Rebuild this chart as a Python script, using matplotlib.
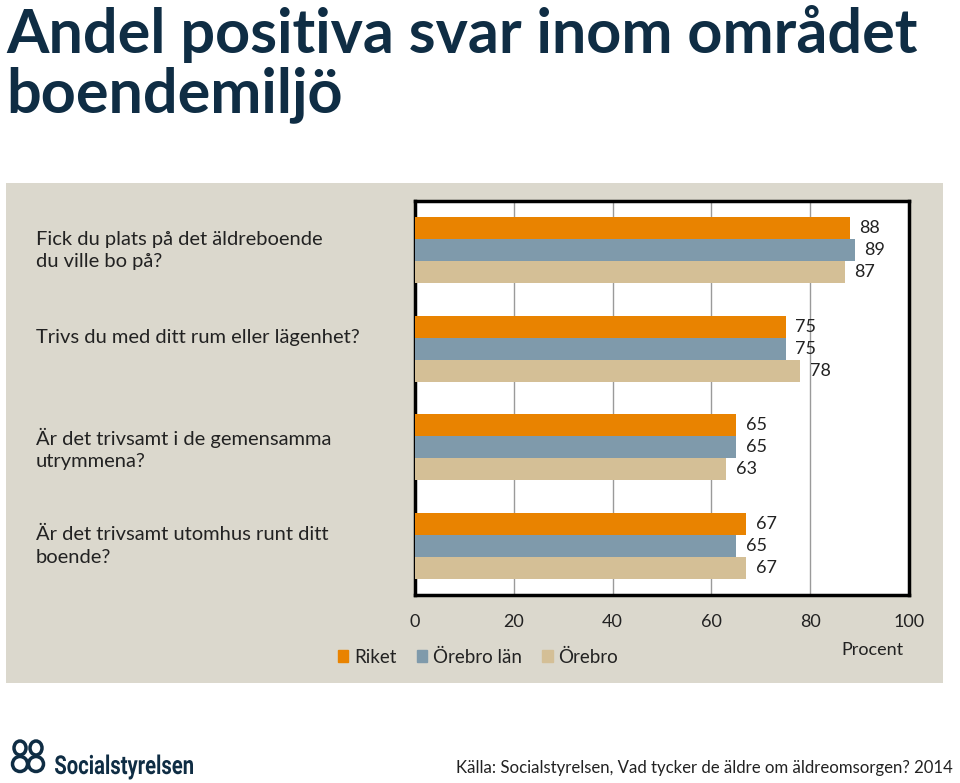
import matplotlib
matplotlib.use("Agg")
import matplotlib.pyplot as plt
import matplotlib.patches as mpatches
from matplotlib.transforms import blended_transform_factory, Affine2D
from matplotlib.textpath import TextPath
from matplotlib.font_manager import FontProperties
import numpy as np

# ---- data ----
categories = [
    "Fick du plats på det äldreboende\ndu ville bo på?",
    "Trivs du med ditt rum eller lägenhet?",
    "Är det trivsamt i de gemensamma\nutrymmena?",
    "Är det trivsamt utomhus runt ditt\nboende?",
]
series_names = ["Riket", "Örebro län", "Örebro"]
riket = [88, 75, 65, 67]
orebro_lan = [89, 75, 65, 65]
orebro = [87, 78, 63, 67]
xticks = [0, 20, 40, 60, 80, 100]

colors = ["#e98300", "#7f9aab", "#d4bf96"]
panel_color = "#dbd8cd"
navy = "#0f2d44"
FONT = "Lato"

fig = plt.figure(figsize=(9.6, 7.83), dpi=100)
W, H = 960, 783

def fx(px):
    return px / W

def fy(py):
    return 1 - py / H

# panel background
fig.patches.append(mpatches.Rectangle((fx(6), fy(683)), fx(943) - fx(6), fy(183) - fy(683),
                                      transform=fig.transFigure, facecolor=panel_color,
                                      edgecolor="none", zorder=-5))

# title
fig.text(fx(6), fy(5), "Andel positiva svar inom området\nboendemiljö", ha="left", va="top",
         fontsize=44, fontweight="bold", color=navy, family=FONT, linespacing=1.08)

# axes
ax = fig.add_axes([fx(415), fy(595), fx(909) - fx(415), fy(201) - fy(595)])
ax.set_zorder(2)
ax.set_facecolor("white")
n = len(categories)
y = np.arange(n)
bh = 0.223
all_series = [riket, orebro_lan, orebro]
for k, (vals, c) in enumerate(zip(all_series, colors)):
    pos = y + (k - 1) * bh
    ax.barh(pos, vals, height=bh, color=c, edgecolor="none", zorder=3, label=series_names[k])
    for p, v in zip(pos, vals):
        ax.annotate(f"{v}", xy=(v, p), xytext=(7, 0), textcoords="offset points",
                    ha="left", va="center", fontsize=13, color="#222222", family=FONT)

ax.set_xlim(0, 100)
ax.set_ylim(n - 0.5, -0.5)
ax.set_xticks(xticks)
ax.set_xticklabels([str(t) for t in xticks], fontsize=13, family=FONT, color="#222222")
ax.tick_params(axis="x", length=0, pad=14)
ax.set_yticks([])
ax.grid(axis="x", color="#9a9a9a", linewidth=1.0, zorder=1)
for s in ax.spines.values():
    s.set_linewidth(2.5)
    s.set_color("black")

# category labels
trans = blended_transform_factory(fig.transFigure, ax.transData)
for i, cat in enumerate(categories):
    ax.text(fx(36), i - 0.20, cat, transform=trans, ha="left", va="top",
            fontsize=14.5, family=FONT, color="#222222", linespacing=1.4, clip_on=False)

# legend
handles = [mpatches.Patch(color=c, label=s) for c, s in zip(colors, series_names)]
leg = fig.legend(handles=handles, loc="center", bbox_to_anchor=(fx(478), fy(657)), ncol=3,
                 frameon=False, prop={"family": FONT, "size": 13.5}, handlelength=0.55,
                 handleheight=0.55, handletextpad=0.3, columnspacing=1.1)
for t in leg.get_texts():
    t.set_color("#222222")

fig.text(fx(872), fy(650), "Procent", ha="center", va="center", fontsize=13,
         family=FONT, color="#222222")

# footer
fig.text(fx(953), fy(768), "Källa: Socialstyrelsen, Vad tycker de äldre om äldreomsorgen? 2014",
         ha="right", va="center", fontsize=12.1, family=FONT, color="#222222")

# logo word (condensed bold) drawn in pixel coordinates
tp = TextPath((0, 0), "Socialstyrelsen", size=26,
              prop=FontProperties(family="Roboto", weight="bold"))
ext = tp.get_extents()
sx = 138 / ext.width
logo_tr = Affine2D().scale(sx, 1.0).translate(55 - ext.x0 * sx, H - 774)
patch = mpatches.PathPatch(logo_tr.transform_path(tp), facecolor=navy, edgecolor="none",
                           transform=Affine2D().scale(1.0 / W, 1.0 / H) + fig.transFigure)
fig.patches.append(patch)

# logo mark approximation
for cx in (20, 36):
    fig.patches.append(mpatches.Ellipse((fx(cx), fy(764)), fx(15), fy(0) - fy(15),
                                        transform=fig.transFigure, fill=False,
                                        edgecolor=navy, linewidth=2.5))
    fig.patches.append(mpatches.Ellipse((fx(cx), fy(748)), fx(12), fy(0) - fy(14),
                                        transform=fig.transFigure, fill=False,
                                        edgecolor=navy, linewidth=2.5))

fig.savefig("out.png", dpi=100, facecolor="white")
